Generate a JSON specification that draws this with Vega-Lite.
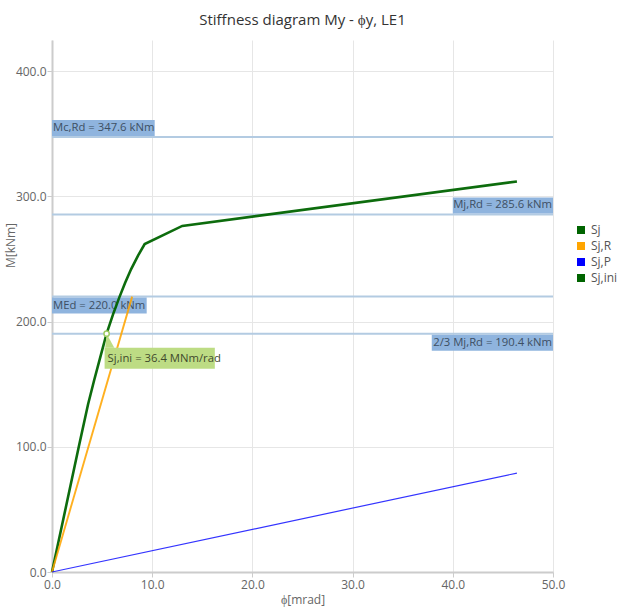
{
  "$schema": "https://vega.github.io/schema/vega-lite/v6.json",
  "autosize": {"type": "none"},
  "padding": {"left": 52, "top": 40, "right": 74, "bottom": 41},
  "width": 501,
  "height": 532,
  "background": "white",
  "title": {
    "text": "Stiffness diagram My - ϕy, LE1",
    "font": "Open Sans",
    "fontSize": 15,
    "fontWeight": "normal",
    "color": "#333333",
    "anchor": "middle",
    "dx": 0,
    "offset": 12
  },
  "datasets": {
    "curves": [
      {"series": "Sj", "phi": 0, "M": 0},
      {"series": "Sj", "phi": 2.7, "M": 101},
      {"series": "Sj", "phi": 3.6, "M": 134},
      {"series": "Sj", "phi": 4.2, "M": 153},
      {"series": "Sj", "phi": 4.9, "M": 174},
      {"series": "Sj", "phi": 5.45, "M": 190.4},
      {"series": "Sj", "phi": 6.1, "M": 206},
      {"series": "Sj", "phi": 6.7, "M": 219},
      {"series": "Sj", "phi": 7.3, "M": 231},
      {"series": "Sj", "phi": 7.9, "M": 242},
      {"series": "Sj", "phi": 8.6, "M": 253},
      {"series": "Sj", "phi": 9.25, "M": 262},
      {"series": "Sj", "phi": 13.0, "M": 276.5},
      {"series": "Sj", "phi": 46.4, "M": 312},
      {"series": "Sj,R", "phi": 0, "M": 0},
      {"series": "Sj,R", "phi": 8.0, "M": 220},
      {"series": "Sj,P", "phi": 0, "M": 0},
      {"series": "Sj,P", "phi": 46.4, "M": 79}
    ],
    "limits": [
      {"label": "Mc,Rd = 347.6 kNm", "value": 347.6, "from": 0, "to": 10.25},
      {"label": "Mj,Rd = 285.6 kNm", "value": 285.6, "from": 40.0, "to": 50},
      {"label": "MEd = 220.0 kNm", "value": 220.0, "from": 0, "to": 9.45},
      {"label": "2/3 Mj,Rd = 190.4 kNm", "value": 190.4, "from": 37.9, "to": 50}
    ],
    "ini": [
      {"label": "Sj,ini = 36.4 MNm/rad", "phi": 5.45, "M": 190.4, "from": 5.25, "to": 16.25}
    ]
  },
  "config": {
    "font": "Open Sans",
    "view": {"stroke": null},
    "axis": {
      "gridColor": "#e6e6e6",
      "domainColor": "#cccccc",
      "domainWidth": 2,
      "tickColor": "#cccccc",
      "tickSize": 5,
      "labelColor": "#666666",
      "labelFontSize": 12,
      "labelFlush": false,
      "titleColor": "#666666",
      "titleFontSize": 12,
      "titleFontWeight": "normal"
    }
  },
  "layer": [
    {
      "data": {"name": "limits"},
      "mark": {"type": "rule", "color": "#b3cbe2", "strokeWidth": 2},
      "encoding": {
        "y": {"field": "value", "type": "quantitative", "scale": {"domain": [0, 425], "nice": false}}
      }
    },
    {
      "data": {"name": "limits"},
      "transform": [{"filter": "datum.value > 250"}],
      "mark": {"type": "rect", "color": "#8fb4de", "yOffset": -17, "y2Offset": -1},
      "encoding": {
        "x": {"field": "from", "type": "quantitative"},
        "x2": {"field": "to"},
        "y": {"field": "value", "type": "quantitative"},
        "y2": {"field": "value"}
      }
    },
    {
      "data": {"name": "limits"},
      "transform": [{"filter": "datum.value < 250"}],
      "mark": {"type": "rect", "color": "#8fb4de", "yOffset": 1, "y2Offset": 17},
      "encoding": {
        "x": {"field": "from", "type": "quantitative"},
        "x2": {"field": "to"},
        "y": {"field": "value", "type": "quantitative"},
        "y2": {"field": "value"}
      }
    },
    {
      "data": {"name": "limits"},
      "transform": [{"filter": "datum.value > 250 && datum.from == 0"}],
      "mark": {"type": "text", "align": "left", "baseline": "middle", "dx": 1, "dy": -9, "fontSize": 11.3, "color": "#3d4f63"},
      "encoding": {
        "x": {"field": "from", "type": "quantitative"},
        "y": {"field": "value", "type": "quantitative"},
        "text": {"field": "label"}
      }
    },
    {
      "data": {"name": "limits"},
      "transform": [{"filter": "datum.value > 250 && datum.from > 0"}],
      "mark": {"type": "text", "align": "right", "baseline": "middle", "dx": -1, "dy": -9, "fontSize": 11.3, "color": "#3d4f63"},
      "encoding": {
        "x": {"field": "to", "type": "quantitative"},
        "y": {"field": "value", "type": "quantitative"},
        "text": {"field": "label"}
      }
    },
    {
      "data": {"name": "limits"},
      "transform": [{"filter": "datum.value < 250 && datum.from == 0"}],
      "mark": {"type": "text", "align": "left", "baseline": "middle", "dx": 1, "dy": 9, "fontSize": 11.3, "color": "#3d4f63"},
      "encoding": {
        "x": {"field": "from", "type": "quantitative"},
        "y": {"field": "value", "type": "quantitative"},
        "text": {"field": "label"}
      }
    },
    {
      "data": {"name": "limits"},
      "transform": [{"filter": "datum.value < 250 && datum.from > 0"}],
      "mark": {"type": "text", "align": "right", "baseline": "middle", "dx": -1, "dy": 9, "fontSize": 11.3, "color": "#3d4f63"},
      "encoding": {
        "x": {"field": "to", "type": "quantitative"},
        "y": {"field": "value", "type": "quantitative"},
        "text": {"field": "label"}
      }
    },
    {
      "data": {"name": "curves"},
      "mark": {"type": "line"},
      "encoding": {
        "x": {
          "field": "phi",
          "type": "quantitative",
          "title": "ϕ[mrad]",
          "scale": {"domain": [0, 50], "nice": false},
          "axis": {"values": [0, 10, 20, 30, 40, 50], "format": ".1f", "labelPadding": 2, "titlePadding": 4}
        },
        "y": {
          "field": "M",
          "type": "quantitative",
          "title": "M[kNm]",
          "axis": {"values": [0, 100, 200, 300, 400], "format": ".1f", "labelPadding": 1, "titleX": -42, "titleY": 205, "titleAlign": "center", "titleBaseline": "middle"}
        },
        "color": {
          "field": "series",
          "type": "nominal",
          "scale": {"domain": ["Sj", "Sj,R", "Sj,P", "Sj,ini"], "range": ["#006400", "#ffa500", "#0000ff", "#006400"]},
          "legend": {
            "title": null,
            "orient": "none",
            "legendX": 523,
            "legendY": 184,
            "symbolType": "square",
            "symbolSize": 64,
            "symbolStrokeWidth": 0,
            "labelFontSize": 12,
            "labelColor": "#555555",
            "labelOffset": 4,
            "rowPadding": 4,
            "encode": {"symbols": {"update": {"fill": {"scale": "color", "field": "value"}, "fillOpacity": {"value": 1}, "opacity": {"value": 1}}}}
          }
        },
        "strokeWidth": {
          "field": "series",
          "type": "nominal",
          "scale": {"domain": ["Sj", "Sj,R", "Sj,P"], "range": [2.6, 1.2, 1.8]},
          "legend": null
        },
        "opacity": {
          "field": "series",
          "type": "nominal",
          "scale": {"domain": ["Sj", "Sj,R", "Sj,P"], "range": [0.95, 0.8, 0.6]},
          "legend": null
        }
      }
    },
    {
      "data": {"name": "ini"},
      "mark": {"type": "rect", "color": "#bddc84", "yOffset": 14, "y2Offset": 35},
      "encoding": {
        "x": {"field": "from", "type": "quantitative"},
        "x2": {"field": "to"},
        "y": {"field": "M", "type": "quantitative"},
        "y2": {"field": "M"}
      }
    },
    {
      "data": {"name": "ini"},
      "mark": {"type": "point", "shape": "M0,-1L-0.2,1L1.1,1Z", "size": 196, "filled": true, "color": "#bddc84", "opacity": 1, "yOffset": 7},
      "encoding": {
        "x": {"field": "phi", "type": "quantitative"},
        "y": {"field": "M", "type": "quantitative"}
      }
    },
    {
      "data": {"name": "ini"},
      "mark": {"type": "text", "align": "left", "baseline": "middle", "dx": 3, "dy": 25, "fontSize": 11.3, "color": "#3f4a2c"},
      "encoding": {
        "x": {"field": "from", "type": "quantitative"},
        "y": {"field": "M", "type": "quantitative"},
        "text": {"field": "label"}
      }
    },
    {
      "data": {"name": "ini"},
      "mark": {"type": "point", "shape": "circle", "size": 28, "filled": true, "fill": "white", "stroke": "#9fcc62", "strokeWidth": 1.5, "opacity": 1},
      "encoding": {
        "x": {"field": "phi", "type": "quantitative"},
        "y": {"field": "M", "type": "quantitative"}
      }
    }
  ]
}
